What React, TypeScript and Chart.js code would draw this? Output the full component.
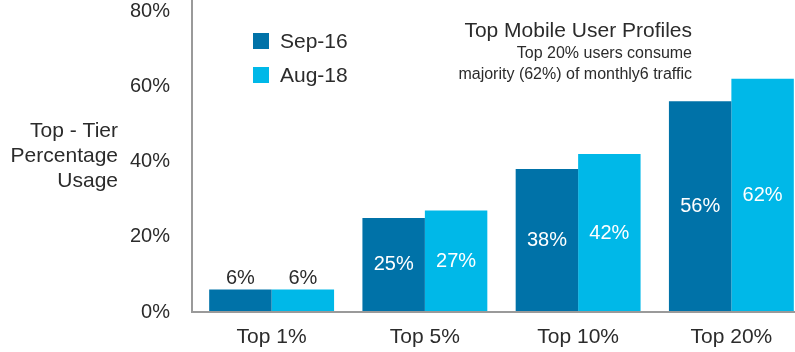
import React, { useEffect, useRef } from "react";
import { Chart, registerables } from "chart.js";

Chart.register(...registerables);

const categories = ["Top 1%", "Top 5%", "Top 10%", "Top 20%"];
const sep16Values = [6, 25, 38, 56];
const aug18Values = [6, 27, 42, 62];
const seriesLabels = ["Sep-16", "Aug-18"];
const seriesColors = ["#0072A8", "#00B8E8"];
const yTickValues = [0, 20, 40, 60, 80];
const yTitleLines = ["Top - Tier", "Percentage", "Usage"];
const titleText = "Top Mobile User Profiles";
const subtitleLines = ["Top 20% users consume", "majority (62%) of monthly6 traffic"];

const FONT = "'Liberation Sans', Arial, sans-serif";
const TEXT = "#2b2b2b";

const overlayPlugin = {
  id: "overlay",
  afterDraw(chart: any) {
    const ctx = chart.ctx;
    const area = chart.chartArea;
    ctx.save();
    // axis lines
    ctx.strokeStyle = "#9a9a9a";
    ctx.lineWidth = 2;
    ctx.beginPath();
    ctx.moveTo(192, 0);
    ctx.lineTo(192, area.bottom);
    ctx.lineTo(chart.width, area.bottom);
    ctx.stroke();

    // data labels
    chart.data.datasets.forEach((ds: any, di: number) => {
      const meta = chart.getDatasetMeta(di);
      meta.data.forEach((bar: any, i: number) => {
        const v = ds.data[i];
        ctx.font = `20px ${FONT}`;
        ctx.textAlign = "center";
        ctx.textBaseline = "middle";
        if (v < 10) {
          ctx.fillStyle = TEXT;
          ctx.fillText(v + "%", bar.x, bar.y - 11);
        } else {
          ctx.fillStyle = "#ffffff";
          ctx.fillText(v + "%", bar.x, (bar.y + bar.base) / 2);
        }
      });
    });

    // y title
    ctx.fillStyle = TEXT;
    ctx.font = `21px ${FONT}`;
    ctx.textAlign = "right";
    ctx.textBaseline = "middle";
    yTitleLines.forEach((line, i) => {
      ctx.fillText(line, 118, 131 + i * 25);
    });

    // legend
    chart.data.datasets.forEach((ds: any, i: number) => {
      const cy = 41 + i * 34;
      ctx.fillStyle = ds.backgroundColor;
      ctx.fillRect(253, cy - 8, 16, 16);
      ctx.fillStyle = TEXT;
      ctx.font = `21px ${FONT}`;
      ctx.textAlign = "left";
      ctx.fillText(ds.label, 280, cy + 1);
    });

    // title
    ctx.textAlign = "right";
    ctx.fillStyle = TEXT;
    ctx.font = `21px ${FONT}`;
    ctx.fillText(titleText, 692, 31);
    ctx.font = `16px ${FONT}`;
    subtitleLines.forEach((line, i) => {
      ctx.fillText(line, 692, 54 + i * 21);
    });
    ctx.restore();
  },
};

export default function App() {
  const ref = useRef<HTMLCanvasElement>(null);
  useEffect(() => {
    document.body.style.margin = "0";
    document.body.style.overflow = "hidden";
    const chart = new Chart(ref.current!, {
      type: "bar",
      data: {
        labels: categories,
        datasets: [
          { label: seriesLabels[0], data: sep16Values, backgroundColor: seriesColors[0] },
          { label: seriesLabels[1], data: aug18Values, backgroundColor: seriesColors[1] },
        ],
      },
      options: {
        animation: false,
        responsive: false,
        layout: { padding: { top: 11, right: 4, left: 0, bottom: 0 } },
        plugins: { legend: { display: false }, tooltip: { enabled: false } },
        datasets: { bar: { categoryPercentage: 0.815, barPercentage: 1 } },
        scales: {
          x: {
            grid: { display: false, drawTicks: false },
            border: { display: false },
            ticks: { color: TEXT, font: { family: FONT, size: 21 }, padding: 13 },
            afterFit: (s: any) => { s.height = 40; },
          },
          y: {
            min: 0,
            max: 80,
            grid: { display: false, drawTicks: false },
            border: { display: false },
            afterBuildTicks: (s: any) => { s.ticks = yTickValues.map((v) => ({ value: v })); },
            ticks: {
              color: TEXT,
              font: { family: FONT, size: 20 },
              padding: 25,
              callback: (v: any) => v + "%",
            },
            afterFit: (s: any) => {
              s.width = 195;
              s.paddingTop = 0;
              s.paddingBottom = 0;
            },
          },
        },
      },
      plugins: [overlayPlugin],
    });
    return () => chart.destroy();
  }, []);
  return (
    <div style={{ width: 795, height: 352, overflow: "hidden" }}>
      <canvas ref={ref} width={812} height={352} />
    </div>
  );
}
